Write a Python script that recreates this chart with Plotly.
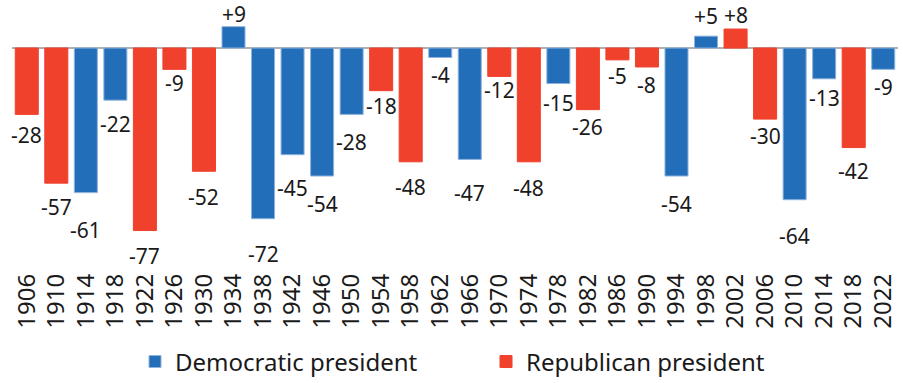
import plotly.graph_objects as go

# Midterm election years and seat change of the president's party in the House
years = [1906, 1910, 1914, 1918, 1922, 1926, 1930, 1934, 1938, 1942,
         1946, 1950, 1954, 1958, 1962, 1966, 1970, 1974, 1978, 1982,
         1986, 1990, 1994, 1998, 2002, 2006, 2010, 2014, 2018, 2022]
seat_change = [-28, -57, -61, -22, -77, -9, -52, 9, -72, -45,
               -54, -28, -18, -48, -4, -47, -12, -48, -15, -26,
               -5, -8, -54, 5, 8, -30, -64, -13, -42, -9]
party = ["R", "R", "D", "D", "R", "R", "R", "D", "D", "D",
         "D", "D", "R", "R", "D", "D", "R", "R", "D", "R",
         "R", "R", "D", "D", "R", "R", "D", "D", "R", "D"]

# Distance (px) between bar end and the centre of its value label
label_gap = [21, 24, 37, 24, 25, 14, 26, 13, 35, 33,
             28, 28, 15, 25, 18, 34, 14, 26, 19, 17,
             16, 18, 28, 20, 14, 17, 36, 19, 23, 18]

BLUE = "#236eb9"
RED = "#f0412d"
FONT = "Noto Sans"
TEXT = "#1a1a1a"

fig = go.Figure()
for code, name, color, edge in [("D", "Democratic president", BLUE, "#8fb3dd"),
                                ("R", "Republican president", RED, RED)]:
    xs = [y for y, p in zip(years, party) if p == code]
    vs = [v for v, p in zip(seat_change, party) if p == code]
    fig.add_trace(go.Bar(
        x=xs, y=vs, name=name,
        marker=dict(color=color, line=dict(color=edge, width=1)),
        hoverinfo="x+y",
    ))

annotations = []
for yr, v, g in zip(years, seat_change, label_gap):
    annotations.append(dict(
        x=yr, y=v, xref="x", yref="y",
        text=f"+{v}" if v > 0 else f"{v}",
        showarrow=False, yanchor="middle",
        yshift=g if v > 0 else -g,
        font=dict(family=FONT, size=21, color=TEXT),
    ))

fig.update_layout(
    width=903, height=383,
    margin=dict(l=12, r=5, t=0, b=115),
    paper_bgcolor="white", plot_bgcolor="white",
    barmode="overlay", bargap=0.22,
    font=dict(family=FONT, color=TEXT),
    xaxis=dict(
        range=[years[0] - 2, years[-1] + 2],
        tickmode="array", tickvals=years, ticktext=[str(y) for y in years],
        tickangle=-90, tickfont=dict(family=FONT, size=24, color=TEXT),
        showgrid=False, showline=False, ticks="", zeroline=False,
    ),
    yaxis=dict(
        range=[-92.8, 20.25], showticklabels=False,
        showgrid=False, showline=False, ticks="",
        zeroline=True, zerolinecolor="#b0b0b0", zerolinewidth=2,
    ),
    legend=dict(
        orientation="h", x=0.535, xanchor="center",
        yref="container", y=0.055, yanchor="middle",
        font=dict(family=FONT, size=24, color=TEXT),
        entrywidth=306, entrywidthmode="pixels",
        itemwidth=30,
    ),
    annotations=annotations,
)

fig.write_html("out.html")
